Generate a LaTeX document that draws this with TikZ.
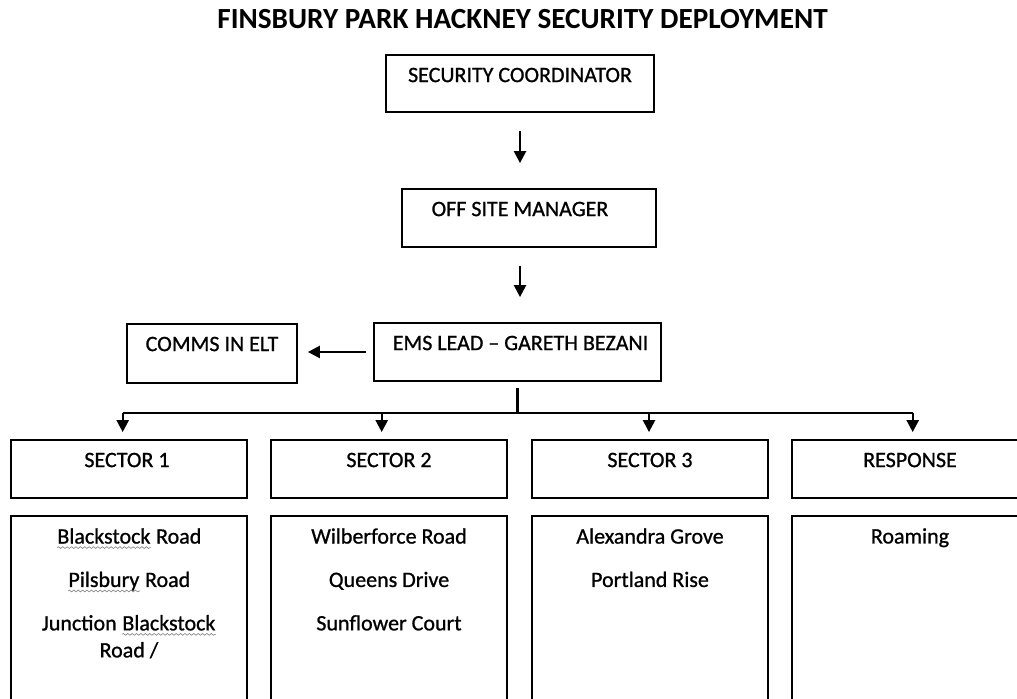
\documentclass[tikz,border=0pt]{standalone}
\usepackage{fontspec}
\setmainfont{Carlito}
\newfontfamily\scanfont{Carlito}[Ligatures=TeX, FakeBold=0.9]
\usetikzlibrary{arrows.meta, decorations.pathmorphing}

% grey wavy mark under the words that the spell checker flagged
\newcommand{\spellwave}[1]{\tikz[baseline=(w.base)]{\node[inner sep=0pt] (w) {#1};
    \draw[gray, line width=0.3pt, decorate, decoration={snake, amplitude=0.45pt, segment length=2.2pt}]
        ([yshift=-2pt]w.base west) -- ([yshift=-2pt]w.base east);}}

\tikzset{
    box/.style={draw, line width=0.9pt, inner sep=0pt},
    sectorbox/.style={box, minimum width=118pt, minimum height=29pt},
    streetbox/.style={box, minimum width=118pt, minimum height=107pt},
    txt/.style={inner sep=0pt, font=\scanfont\fontsize{11}{13.5}\selectfont},
    link/.style={line width=1.2pt},
    arrow/.style={link, -{Triangle[length=6pt, width=6pt]}}
}

\begin{document}
\begin{tikzpicture}[x=0.5pt, y=-0.5pt]
        \useasboundingbox (0,0) rectangle (1017,699);
        \fill[white] (0,0) rectangle (1017,699);

        \node[anchor=base, inner sep=0pt, font=\fontsize{14.6}{16}\selectfont\bfseries] (title) at (522.5,28.3) {FINSBURY PARK HACKNEY SECURITY DEPLOYMENT};

        % top of the chain
        \node[box, minimum width=134pt, minimum height=28.5pt] (coord) at (520,83.5) {};
        \node[box, minimum width=127pt, minimum height=29pt] (off) at (529,218) {};
        \node[box, minimum width=143.5pt, minimum height=29pt] (ems) at (517.5,352) {};
        \node[box, minimum width=85pt, minimum height=29.5pt] (comms) at (212,353.5) {};

        \node[txt, anchor=base] (tcoord) at ([yshift=-14pt]coord.north) {SECURITY COORDINATOR};
        \node[txt, anchor=base] (toff) at ([xshift=-4.5pt, yshift=-14pt]off.north) {OFF SITE MANAGER};
        \node[txt, anchor=base] (tems) at ([xshift=1.5pt, yshift=-14pt]ems.north) {EMS LEAD – GARETH BEZANI};
        \node[txt, anchor=base] (tcomms) at ([yshift=-14pt]comms.north) {COMMS IN ELT};

        \draw[arrow, shorten <=9pt, shorten >=12.5pt] (coord.south) -- (coord.south |- off.north);
        \draw[arrow, shorten <=9pt, shorten >=12.5pt] (off.south -| coord.south) -- (ems.north -| coord.south);
        \draw[arrow, shorten <=3.5pt, shorten >=5pt] (ems.west) -- (ems.west -| comms.east);

        % sectors
        \node[sectorbox] (s1) at (129,469) {};
        \node[sectorbox] (s2) at (389,469) {};
        \node[sectorbox] (s3) at (650,469) {};
        \node[sectorbox] (s4) at (910,469) {};

        \node[txt, anchor=base] (ts1) at ([xshift=-1pt, yshift=-14pt]s1.north) {SECTOR 1};
        \node[txt, anchor=base] (ts2) at ([yshift=-14pt]s2.north) {SECTOR 2};
        \node[txt, anchor=base] (ts3) at ([yshift=-14pt]s3.north) {SECTOR 3};
        \node[txt, anchor=base] (ts4) at ([yshift=-14pt]s4.north) {RESPONSE};

        % bus from the lead down to the four sectors
        \coordinate (bus) at (517.5,413);
        \coordinate (d1) at (122.7,413);
        \coordinate (d2) at (381.7,413);
        \coordinate (d3) at (649,413);
        \coordinate (d4) at (912.7,413);
        \draw[link, shorten <=3pt] (ems.south) -- (bus);
        \draw[link] (d1) -- (d4);
        \draw[arrow, shorten >=3.5pt] (d1) -- (d1 |- s1.north);
        \draw[arrow, shorten >=3.5pt] (d2) -- (d2 |- s2.north);
        \draw[arrow, shorten >=3.5pt] (d3) -- (d3 |- s3.north);
        \draw[arrow, shorten >=3.5pt] (d4) -- (d4 |- s4.north);

        % street lists
        \node[streetbox] (b1) at (129,623) {};
        \node[streetbox] (b2) at (389,623) {};
        \node[streetbox] (b3) at (650,623) {};
        \node[streetbox] (b4) at (910,623) {};

        \node[txt, anchor=north, align=center] (tb1) at ([yshift=-6.4pt]b1.north)
            {\spellwave{Blackstock} Road\\[8.2pt] \spellwave{Pilsbury} Road\\[8.2pt] Junction \spellwave{Blackstock}\\ Road /};
        \node[txt, anchor=north, align=center] (tb2) at ([yshift=-6.4pt]b2.north)
            {Wilberforce Road\\[8.2pt] Queens Drive\\[8.2pt] Sunflower Court};
        \node[txt, anchor=north, align=center] (tb3) at ([yshift=-6.4pt]b3.north)
            {Alexandra Grove\\[8.2pt] Portland Rise};
        \node[txt, anchor=north, align=center] (tb4) at ([yshift=-6.4pt]b4.north) {Roaming};
    \end{tikzpicture}
\end{document}
